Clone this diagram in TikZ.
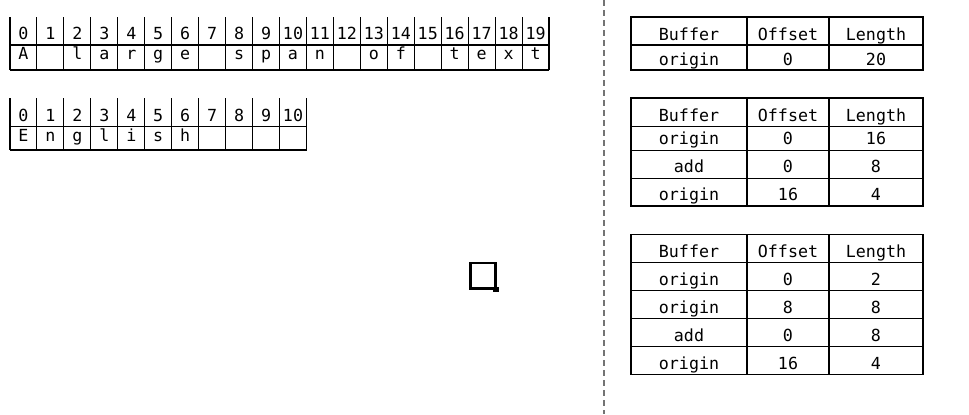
\documentclass[tikz,border=0pt]{standalone}
\usepackage{fontspec}
\setmonofont{DejaVu Sans Mono}
\usepackage{tikz}
\usetikzlibrary{positioning,arrows.meta}

\begin{document}
\begin{tikzpicture}[x=0.75pt, y=-0.75pt,
        font=\ttfamily\fontsize{12.5}{14}\selectfont,
        grid/.style={line width=0.8pt},
        cell/.style={anchor=base, inner sep=0pt},
        split/.style={draw=black!55, line width=1pt, dash pattern=on 4.5pt off 3pt},
        frame/.style={draw, line width=1.7pt}
    ]
        \useasboundingbox (0,0) rectangle (969,414);

        % character buffer
        \foreach \i in {0,...,20}
            \draw[grid] (10+26.95*\i,17) -- (10+26.95*\i,70);
        \draw[grid] (10,45) -- (549,45) (10,70) -- (549,70);
        \foreach \i in {0,...,19}
            \node[cell] (n\i) at (10+26.95*\i+13.5,39.3) {\i};
        \foreach \c [count=\i from 0] in {A,{},l,a,r,g,e,{},s,p,a,n,{},o,f,{},t,e,x,t}
            \node[cell] (c\i) at (10+26.95*\i+13.5,59) {\c};

        % add buffer
        \foreach \i in {0,...,11}
            \draw[grid] (10+26.95*\i,98) -- (10+26.95*\i,150);
        \draw[grid] (10,126.5) -- (306.5,126.5) (10,150) -- (306.5,150);
        \foreach \i in {0,...,10}
            \node[cell] (m\i) at (10+26.95*\i+13.5,121) {\i};
        \foreach \c [count=\i from 0] in {E,n,g,l,i,s,h}
            \node[cell] (d\i) at (10+26.95*\i+13.5,141.7) {\c};

        \draw[split] (604,0) -- (604,414);

        % piece tables
        \draw[grid] (631,17) rectangle (923,70);
        \draw[grid] (747,17) -- (747,70) (829,17) -- (829,70) (631,45) -- (923,45);
        \draw[grid] (631,98) rectangle (923,206);
        \draw[grid] (747,98) -- (747,206) (829,98) -- (829,206);
        \foreach \y in {126.5,150.5,178.5}
            \draw[grid] (631,\y) -- (923,\y);
        \draw[grid] (631,234.3) rectangle (923,374.5);
        \draw[grid] (747,234.3) -- (747,374.5) (829,234.3) -- (829,374.5);
        \foreach \y in {262.3,290.3,318.7,346.7}
            \draw[grid] (631,\y) -- (923,\y);

        \foreach \t/\y in {a/40, b/121, c/257.3} {
            \node[cell] (\t buf) at (689,\y) {Buffer};
            \node[cell] (\t off) at (788,\y) {Offset};
            \node[cell] (\t len) at (876,\y) {Length};
        }
        \foreach \b/\o/\l/\y [count=\k] in {origin/0/20/65}
            \node[cell] (ab\k) at (689,\y) {\b}
                node[cell] (ao\k) at (788,\y) {\o}
                node[cell] (al\k) at (876,\y) {\l};
        \foreach \b/\o/\l/\y [count=\k] in {origin/0/16/144.3, add/0/8/172.7, origin/16/4/200}
            \node[cell] (bb\k) at (689,\y) {\b}
                node[cell] (bo\k) at (788,\y) {\o}
                node[cell] (bl\k) at (876,\y) {\l};
        \foreach \b/\o/\l/\y [count=\k] in {origin/0/2/285, origin/8/8/313.3, add/0/8/341, origin/16/4/369}
            \node[cell] (cb\k) at (689,\y) {\b}
                node[cell] (co\k) at (788,\y) {\o}
                node[cell] (cl\k) at (876,\y) {\l};

        % stray box
        \draw[frame] (470.5,263) rectangle (495.5,288.5);
        \node[fill, inner sep=0pt, minimum size=4pt] (handle) at (496,289.5) {};
    \end{tikzpicture}
\end{document}
